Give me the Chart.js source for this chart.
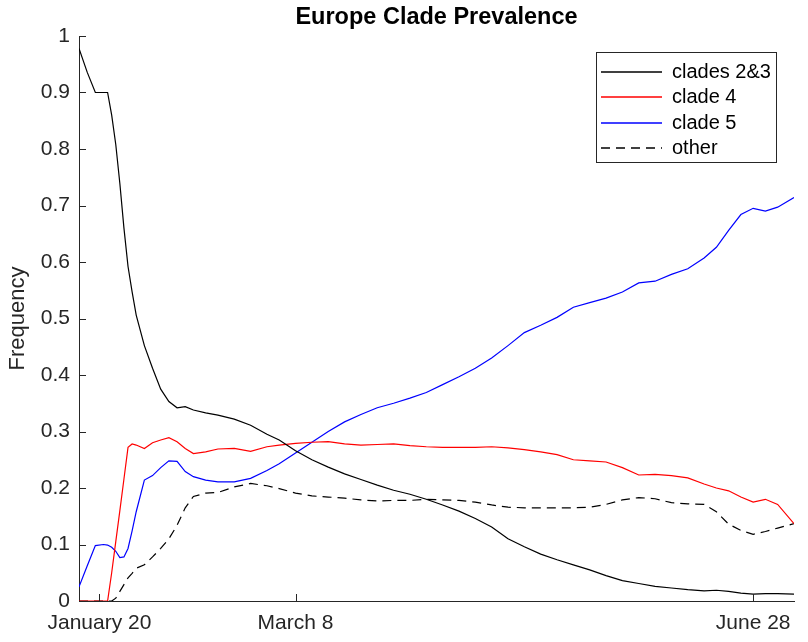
<!DOCTYPE html>
<html>
<head>
<meta charset="utf-8">
<title>Europe Clade Prevalence</title>
<script src="https://cdn.jsdelivr.net/npm/chart.js@4.4.1/dist/chart.umd.min.js"></script>
<style>
body { margin: 0; background: #fff; }
</style>
</head>
<body>
<canvas id="cladeChart" width="808" height="642"></canvas>
<script>
// day 0 = January 15
var days = [0, 2, 4, 6, 7, 8, 9, 10, 11, 12, 13, 14, 16, 18, 20, 22, 24, 26, 28, 31,
	34, 38, 42, 46, 49, 53, 57, 61, 65, 69, 73, 77, 81, 85, 89, 93, 97, 101, 105, 109,
	113, 117, 121, 125, 129, 133, 137, 141, 145, 149, 153, 156, 159, 162, 165, 168, 171, 175];

var clades23 = [0.978, 0.936, 0.90, 0.90, 0.90, 0.86, 0.808, 0.739, 0.66, 0.592, 0.547, 0.506, 0.452, 0.412, 0.375, 0.353, 0.342, 0.344, 0.338, 0.333,
	0.329, 0.322, 0.311, 0.295, 0.285, 0.266, 0.250, 0.237, 0.225, 0.215, 0.205, 0.196, 0.189, 0.180, 0.170, 0.159, 0.146, 0.131, 0.110, 0.096,
	0.083, 0.073, 0.064, 0.055, 0.045, 0.036, 0.031, 0.026, 0.023, 0.020, 0.018, 0.019, 0.017, 0.014, 0.012, 0.013, 0.013, 0.012];

var clade4 = [0, 0, 0, 0, 0, 0.05, 0.105, 0.16, 0.216, 0.272, 0.278, 0.276, 0.27, 0.28, 0.285, 0.289, 0.282, 0.27, 0.261, 0.264,
	0.269, 0.27, 0.265, 0.273, 0.276, 0.279, 0.281, 0.282, 0.278, 0.276, 0.277, 0.278, 0.275, 0.273, 0.272, 0.272, 0.272, 0.273, 0.271, 0.268,
	0.264, 0.259, 0.25, 0.248, 0.246, 0.236, 0.223, 0.224, 0.222, 0.218, 0.207, 0.2, 0.195, 0.184, 0.175, 0.18, 0.171, 0.137];

var clade5 = [0.025, 0.062, 0.098, 0.1, 0.099, 0.095, 0.088, 0.077, 0.078, 0.093, 0.124, 0.158, 0.214, 0.222, 0.236, 0.248, 0.247, 0.229, 0.22, 0.214,
	0.211, 0.211, 0.217, 0.231, 0.243, 0.262, 0.281, 0.3, 0.317, 0.33, 0.342, 0.35, 0.359, 0.369, 0.383, 0.397, 0.412, 0.43, 0.452, 0.475,
	0.488, 0.502, 0.52, 0.528, 0.536, 0.547, 0.563, 0.566, 0.578, 0.588, 0.607, 0.626, 0.656, 0.684, 0.695, 0.69, 0.697, 0.714];

var other = [0, 0, 0, 0, 0, 0, 0.005, 0.017, 0.029, 0.041, 0.049, 0.058, 0.064, 0.078, 0.093, 0.11, 0.134, 0.165, 0.185, 0.191,
	0.192, 0.202, 0.208, 0.204, 0.199, 0.191, 0.186, 0.184, 0.182, 0.179, 0.177, 0.178, 0.178, 0.18, 0.179, 0.178, 0.175, 0.17, 0.166, 0.165,
	0.165, 0.165, 0.165, 0.166, 0.171, 0.179, 0.183, 0.181, 0.174, 0.172, 0.171, 0.158, 0.136, 0.125, 0.118, 0.123, 0.129, 0.137];

var seriesNames = ['clades 2&3', 'clade 4', 'clade 5', 'other'];
var seriesColors = ['#000000', '#ff0000', '#0000ff', '#000000'];
var seriesDashes = [[], [], [], [9, 6]];
var tickDays = [5, 53, 165];
var tickLabels = ['January 20', 'March 8', 'June 28'];

var axisColor = '#262626';
var fontFamily = 'Arial, "Liberation Sans", Helvetica, sans-serif';

function points(values) {
	return days.map(function(d, i) {
		return {x: d, y: values[i]};
	});
}

function lineSet(i, values) {
	return {
		label: seriesNames[i],
		data: points(values),
		borderColor: seriesColors[i],
		borderWidth: 1.2,
		borderDash: seriesDashes[i],
		pointRadius: 0,
		tension: 0,
		fill: false
	};
}

// matlab style ticks, pointing into the plot
var innerTicks = {
	id: 'innerTicks',
	afterDraw: function(chart) {
		var ctx = chart.ctx;
		var area = chart.chartArea;
		var xs = chart.scales.x;
		var ys = chart.scales.y;
		ctx.save();
		ctx.strokeStyle = axisColor;
		ctx.lineWidth = 1;
		ctx.beginPath();
		ys.ticks.forEach(function(t) {
			var y = Math.round(ys.getPixelForValue(t.value)) + 0.5;
			ctx.moveTo(area.left, y);
			ctx.lineTo(area.left + 7, y);
		});
		xs.ticks.forEach(function(t) {
			var x = Math.round(xs.getPixelForValue(t.value)) + 0.5;
			ctx.moveTo(x, area.bottom);
			ctx.lineTo(x, area.bottom - 7);
		});
		ctx.stroke();
		ctx.restore();
	}
};

// legend in a box at the top right of the axes
var boxLegend = {
	id: 'boxLegend',
	afterDraw: function(chart) {
		var ctx = chart.ctx;
		var left = chart.chartArea.right - 198;
		var top = chart.chartArea.top + 16;
		ctx.save();
		ctx.fillStyle = '#fff';
		ctx.fillRect(left, top, 180, 110);
		ctx.strokeStyle = axisColor;
		ctx.lineWidth = 1;
		ctx.strokeRect(left + 0.5, top + 0.5, 180, 110);
		ctx.font = '20px ' + fontFamily;
		ctx.textBaseline = 'middle';
		seriesNames.forEach(function(name, i) {
			var y = Math.round(top + 20 + i * 25.3);
			ctx.strokeStyle = seriesColors[i];
			ctx.lineWidth = 1.5;
			ctx.setLineDash(seriesDashes[i]);
			ctx.beginPath();
			ctx.moveTo(left + 5, y);
			ctx.lineTo(left + 66, y);
			ctx.stroke();
			ctx.setLineDash([]);
			ctx.fillStyle = '#000';
			ctx.fillText(name, left + 76, y);
		});
		ctx.restore();
	}
};

var ctx = document.getElementById('cladeChart').getContext('2d');

var cladeChart = new Chart(ctx, {
	type: 'line',
	data: {
		datasets: [
			lineSet(0, clades23),
			lineSet(1, clade4),
			lineSet(2, clade5),
			lineSet(3, other)
		]
	},
	options: {
		responsive: false,
		animation: false,
		devicePixelRatio: 1,
		layout: {
			padding: {left: 0, right: 14, top: 0, bottom: 0}
		},
		plugins: {
			legend: {display: false},
			tooltip: {enabled: false},
			title: {
				display: true,
				text: 'Europe Clade Prevalence',
				fullSize: false,
				color: '#000',
				font: {family: fontFamily, size: 23.5, weight: 'bold'},
				padding: {top: 3, bottom: 4.8}
			}
		},
		scales: {
			x: {
				type: 'linear',
				min: 0,
				max: 175,
				afterBuildTicks: function(scale) {
					scale.ticks = tickDays.map(function(d) {
						return {value: d};
					});
				},
				afterFit: function(scale) {
					scale.height = 41;
				},
				grid: {display: false, drawTicks: false},
				border: {display: true, color: axisColor, width: 1},
				ticks: {
					autoSkip: false,
					maxRotation: 0,
					padding: 10,
					color: axisColor,
					font: {family: fontFamily, size: 21},
					callback: function(value, index) {
						return tickLabels[index];
					}
				}
			},
			y: {
				min: 0,
				max: 1,
				afterFit: function(scale) {
					scale.width = 79;
				},
				grid: {display: false, drawTicks: false},
				border: {display: true, color: axisColor, width: 1},
				title: {
					display: true,
					text: 'Frequency',
					color: axisColor,
					font: {family: fontFamily, size: 22},
					padding: {top: 5, bottom: 0}
				},
				ticks: {
					stepSize: 0.1,
					padding: 9,
					color: axisColor,
					font: {family: fontFamily, size: 21},
					callback: function(value) {
						return String(Math.round(value * 10) / 10);
					}
				}
			}
		}
	},
	plugins: [innerTicks, boxLegend]
});
</script>
</body>
</html>
